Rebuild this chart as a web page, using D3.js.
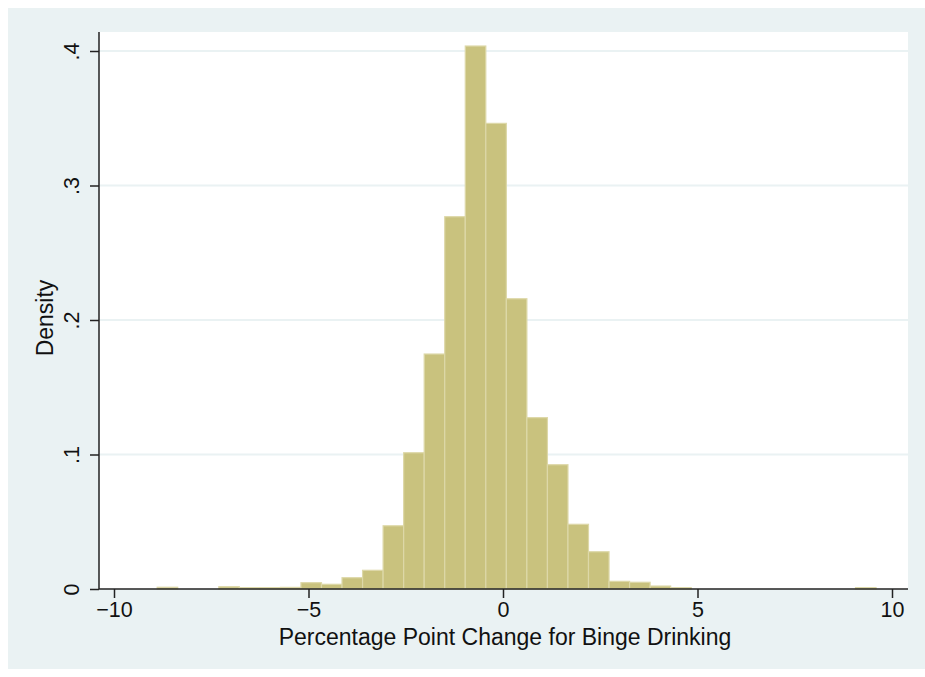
<!DOCTYPE html>
<html>
<head>
<meta charset="utf-8">
<script src="https://cdn.jsdelivr.net/npm/d3@7"></script>
<style>
  html, body { margin: 0; padding: 0; background: #ffffff; }
  svg { display: block; font-family: "Liberation Sans", Arial, Helvetica, sans-serif; }
</style>
</head>
<body>
<script>
// ---- data ----
const binStart = -8.89;
const binWidth = 0.528;
const densities = [
  0.0013, 0, 0, 0.0017, 0.0010, 0.0010, 0.0012, 0.0047, 0.0035, 0.0084,
  0.0139, 0.0470, 0.1013, 0.1747, 0.2768, 0.4037, 0.3462, 0.2158, 0.1274, 0.0924,
  0.0481, 0.0277, 0.0057, 0.0050, 0.0022, 0.0010, 0, 0, 0, 0,
  0, 0, 0, 0, 0.0010
];
const xTicks = [-10, -5, 0, 5, 10];
const yTicks = [0, 0.1, 0.2, 0.3, 0.4];
const yTickLabels = ["0", ".1", ".2", ".3", ".4"];
const xTitle = "Percentage Point Change for Binge Drinking";
const yTitle = "Density";

const bins = densities.map((d, i) => ({
  x0: binStart + i * binWidth,
  x1: binStart + (i + 1) * binWidth,
  d: d
}));

// ---- layout ----
const W = 925, H = 677;
const plot = { left: 99, right: 908, top: 32, bottom: 589 };

const x = d3.scaleLinear().domain([-10, 10]).range([114, 892]);
const y = d3.scaleLinear().domain([0, 0.4]).range([589, 51]);

const svg = d3.select("body").append("svg").attr("width", W).attr("height", H);

// outer region
svg.append("rect").attr("x", 8).attr("y", 8).attr("width", W - 8).attr("height", 661)
  .attr("fill", "#eaf2f3");

// plot region
svg.append("rect").attr("x", plot.left).attr("y", plot.top)
  .attr("width", plot.right - plot.left).attr("height", plot.bottom - plot.top)
  .attr("fill", "#ffffff");

// gridlines
svg.append("g").selectAll("line").data(yTicks.filter(t => t > 0)).join("line")
  .attr("x1", plot.left).attr("x2", plot.right)
  .attr("y1", d => y(d)).attr("y2", d => y(d))
  .attr("stroke", "#eaf2f3").attr("stroke-width", 2);

// bars
svg.append("g").selectAll("rect").data(bins.filter(b => b.d > 0)).join("rect")
  .attr("x", b => x(b.x0))
  .attr("width", b => x(b.x1) - x(b.x0))
  .attr("y", b => y(b.d))
  .attr("height", b => y(0) - y(b.d))
  .attr("fill", "#c9c27e")
  .attr("stroke", "#ddd8a8")
  .attr("stroke-width", 1.2);

// y axis
const yAxis = d3.axisLeft(y).tickValues(yTicks).tickSize(9).tickPadding(11)
  .tickFormat((d, i) => yTickLabels[i]);
const gy = svg.append("g").attr("transform", `translate(${plot.left},0)`).call(yAxis);
gy.select(".domain").attr("d", `M0,${plot.top}V${plot.bottom}`).attr("stroke", "#222").attr("stroke-width", 1.5);
gy.selectAll(".tick line").attr("stroke", "#222").attr("stroke-width", 1.5);
gy.selectAll(".tick text")
  .attr("font-size", 21.5).attr("fill", "#111")
  .attr("text-anchor", "middle")
  .attr("dy", null)
  .attr("x", null)
  .attr("transform", "translate(-20,0) rotate(-90)")
  .attr("y", 0);

// x axis
const xAxis = d3.axisBottom(x).tickValues(xTicks).tickSize(9).tickPadding(4)
  .tickFormat(d => d < 0 ? "\u2212" + Math.abs(d) : String(d));
const gx = svg.append("g").attr("transform", `translate(0,${plot.bottom})`).call(xAxis);
gx.select(".domain").attr("d", `M${plot.left},0H${plot.right}`).attr("stroke", "#222").attr("stroke-width", 1.5);
gx.selectAll(".tick line").attr("stroke", "#222").attr("stroke-width", 1.5);
gx.selectAll(".tick text").attr("font-size", 21.5).attr("fill", "#111");

// titles
svg.append("text").attr("x", 505).attr("y", 645)
  .attr("text-anchor", "middle").attr("font-size", 23).attr("fill", "#111")
  .text(xTitle);
svg.append("text").attr("transform", `translate(53,${y(0.2) - 2}) rotate(-90)`)
  .attr("text-anchor", "middle").attr("font-size", 23).attr("fill", "#111")
  .text(yTitle);
</script>
</body>
</html>
